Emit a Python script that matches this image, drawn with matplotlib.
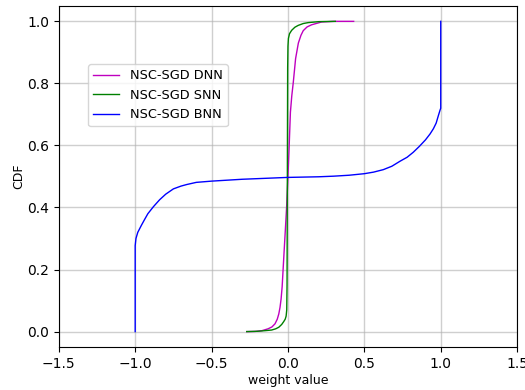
import matplotlib
matplotlib.use("Agg")
import matplotlib.pyplot as plt

# Empirical CDF curves of the trained weights (weight value, cumulative fraction)
dnn_w = [-0.27, -0.216, -0.17, -0.13, -0.105, -0.085, -0.07, -0.06, -0.052, -0.045,
         -0.038, -0.031, -0.025, -0.018, -0.009, 0.0, 0.008, 0.016, 0.025, 0.035,
         0.05, 0.068, 0.085, 0.1, 0.125, 0.155, 0.22, 0.3, 0.43]
dnn_cdf = [0.0, 0.0005, 0.003, 0.009, 0.015, 0.025, 0.04, 0.057, 0.078, 0.105,
           0.145, 0.207, 0.26, 0.32, 0.4, 0.5, 0.6, 0.707, 0.76, 0.804,
           0.88, 0.93, 0.955, 0.97, 0.982, 0.989, 0.998, 1.0, 1.0]

snn_w = [-0.27, -0.2, -0.15, -0.107, -0.08, -0.06, -0.041, -0.028, -0.018, -0.012,
         -0.008, -0.006, -0.004, -0.002, 0.0, 0.003, 0.01, 0.024, 0.045, 0.067,
         0.1, 0.133, 0.2, 0.31]
snn_cdf = [0.0, 0.001, 0.003, 0.005, 0.009, 0.014, 0.023, 0.032, 0.04, 0.05,
           0.07, 0.15, 0.5, 0.85, 0.92, 0.945, 0.96, 0.971, 0.981, 0.987,
           0.993, 0.996, 0.999, 1.0]

bnn_w = [-1.0, -1.0, -0.995, -0.983, -0.96, -0.94, -0.917, -0.88, -0.84, -0.8,
         -0.75, -0.7, -0.663, -0.6, -0.5, -0.4, -0.3, -0.2, -0.1, 0.0,
         0.1, 0.2, 0.3, 0.4, 0.5, 0.56, 0.624, 0.68, 0.733, 0.78,
         0.82, 0.86, 0.9, 0.93, 0.952, 0.97, 0.985, 0.995, 1.0, 1.0]
bnn_cdf = [0.0, 0.277, 0.3, 0.32, 0.342, 0.36, 0.38, 0.403, 0.425, 0.443,
           0.46, 0.469, 0.474, 0.481, 0.485, 0.488, 0.491, 0.493, 0.495, 0.497,
           0.498, 0.499, 0.501, 0.504, 0.509, 0.514, 0.522, 0.533, 0.549, 0.562,
           0.578, 0.597, 0.618, 0.637, 0.654, 0.672, 0.697, 0.713, 0.72, 1.0]

series = [
    ("NSC-SGD DNN", dnn_w, dnn_cdf, "m"),
    ("NSC-SGD SNN", snn_w, snn_cdf, "g"),
    ("NSC-SGD BNN", bnn_w, bnn_cdf, "b"),
]

x_ticks = [-1.5, -1.0, -0.5, 0.0, 0.5, 1.0, 1.5]
y_ticks = [0.0, 0.2, 0.4, 0.6, 0.8, 1.0]

fig = plt.figure(figsize=(5.25, 3.9), dpi=100)
ax = fig.add_axes([0.112, 0.11, 0.873, 0.875])

for label, w, c, color in series:
    ax.plot(w, c, color=color, lw=1.0, label=label)

ax.set_xlim(-1.5, 1.5)
ax.set_ylim(-0.05, 1.05)
ax.set_xticks(x_ticks)
ax.set_yticks(y_ticks)
ax.grid(True, color="#b0b0b0", lw=1.0, alpha=0.6)
ax.set_axisbelow(True)
ax.set_xlabel("weight value", fontsize=9, labelpad=2)
ax.set_ylabel("CDF", fontsize=9, labelpad=1)
ax.legend(loc="upper left", bbox_to_anchor=(0.05, 0.848), fontsize=9.3)

fig.savefig("out.png", dpi=100)
